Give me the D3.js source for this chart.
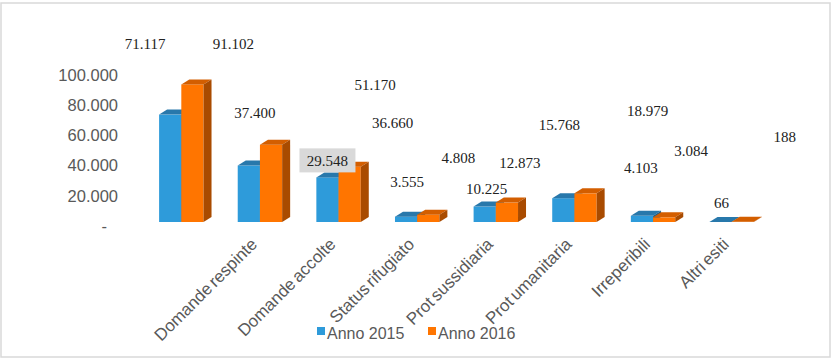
<!DOCTYPE html>
<meta charset="utf-8">
<style>
  body { margin: 0; background: #fff; }
  .axis text { font-family: "Liberation Sans", Arial, sans-serif; font-size: 16.5px; fill: #595959; }
  .cat { font-family: "Liberation Sans", Arial, sans-serif; font-size: 17px; fill: #595959; word-spacing: -2px; }
  .lbl { font-family: "Liberation Serif", "Times New Roman", serif; font-size: 15px; fill: #222; }
  .legend text { font-family: "Liberation Sans", Arial, sans-serif; font-size: 16px; fill: #595959; }
</style>
<body>
<div id="chart"></div>
<script src="https://d3js.org/d3.v7.min.js"></script>
<script>

// first category has no visible label in the original
var categories = ["", "Domande respinte", "Domande accolte", "Status rifugiato",
                  "Prot sussidiaria", "Prot umanitaria", "Irreperibili", "Altri esiti"];
var anno2015 = [71117, 37400, 29548, 3555, 10225, 15768, 4103, 66];
var anno2016 = [91102, 51170, 36660, 4808, 12873, 18979, 3084, 188];
var seriesNames = ["Anno 2015", "Anno 2016"];
var yTicks = [0, 20000, 40000, 60000, 80000, 100000];

// data labels were dragged around by hand in the source; offsets from the bar top
var labelOffsets2015 = [[-25, -71], [6, -53], [0, -17], [1, -35], [2, -18], [-4, -73], [-1, -48], [1, -19]];
var labelOffsets2016 = [[41, -41], [104, -60], [43, -44], [30, -57], [13, -40], [62, -83], [27, -67], [42, -85]];

var W = 834, H = 360;
var depth = {dx: 8, dy: -5};

var colors = [
  {front: "#2E9BDA", top: "#2878AB", side: "#1F5F87"},
  {front: "#FF7500", top: "#D35E00", side: "#A94B00"}
];

var it = d3.formatLocale({decimal: ",", thousands: ".", grouping: [3], currency: ["", ""]});
var fmt = it.format(",");

var svg = d3.select("#chart").append("svg")
    .attr("width", W)
    .attr("height", H);

// outer border
svg.append("rect")
    .attr("x", 1).attr("y", 3)
    .attr("width", 829).attr("height", 354)
    .attr("fill", "none")
    .attr("stroke", "#D9D9D9")
    .attr("stroke-width", 1.5);

var x = d3.scaleBand()
    .domain(categories.map(function(d, i) { return i; }))
    .range([142, 771])
    .paddingInner(0.435)
    .paddingOuter(0.2175);

var y = d3.scaleLinear().domain([0, 100000]).range([222, 71]);

var barW = x.bandwidth() / 2;

// y axis (no line, no ticks)
var gy = svg.append("g")
    .attr("class", "axis")
    .attr("transform", "translate(118,4)")
    .call(d3.axisLeft(y).tickValues(yTicks).tickSize(0).tickPadding(0)
      .tickFormat(function(d) { return d === 0 ? "-" : fmt(d); }));
gy.select(".domain").remove();
gy.selectAll("text").attr("dx", function(d) { return d === 0 ? -11 : 0; });

// 3D bars
var bars = [];
categories.forEach(function(c, i) {
  [anno2015[i], anno2016[i]].forEach(function(v, s) {
    bars.push({i: i, s: s, v: v});
  });
});

var g = svg.append("g");
var bar = g.selectAll("g.bar").data(bars).enter().append("g").attr("class", "bar");

function x0(d) { return x(d.i) + d.s * barW; }

bar.append("rect")
    .attr("x", x0)
    .attr("y", function(d) { return y(d.v); })
    .attr("width", barW)
    .attr("height", function(d) { return y(0) - y(d.v); })
    .attr("fill", function(d) { return colors[d.s].front; });

bar.append("path")
    .attr("d", function(d) {
      var xl = x0(d), xr = xl + barW, yt = y(d.v);
      return "M" + xl + "," + yt + "L" + (xl + depth.dx) + "," + (yt + depth.dy) +
             "L" + (xr + depth.dx) + "," + (yt + depth.dy) + "L" + xr + "," + yt + "Z";
    })
    .attr("fill", function(d) { return colors[d.s].top; });

bar.append("path")
    .attr("d", function(d) {
      var xr = x0(d) + barW, yt = y(d.v), yb = y(0);
      return "M" + xr + "," + yt + "L" + (xr + depth.dx) + "," + (yt + depth.dy) +
             "L" + (xr + depth.dx) + "," + (yb + depth.dy) + "L" + xr + "," + yb + "Z";
    })
    .attr("fill", function(d) { return colors[d.s].side; });

// category labels
svg.selectAll("text.cat").data(categories).enter().append("text")
    .attr("class", "cat")
    .attr("text-anchor", "end")
    .attr("dy", "0.35em")
    .attr("transform", function(d, i) {
      return "translate(" + (x(i) + barW - 6) + ",241) rotate(-45)";
    })
    .text(function(d) { return d; });

// data labels
var labels = bars.map(function(d) {
  var off = d.s === 0 ? labelOffsets2015[d.i] : labelOffsets2016[d.i];
  return {cx: x0(d) + barW / 2 + off[0], cy: y(d.v) + off[1], text: fmt(d.v), boxed: d.s === 0 && d.i === 2};
});

var lg = svg.append("g");
lg.selectAll("rect").data(labels.filter(function(d) { return d.boxed; })).enter().append("rect")
    .attr("x", function(d) { return d.cx - 28; })
    .attr("y", function(d) { return d.cy - 12; })
    .attr("width", 56)
    .attr("height", 24)
    .attr("fill", "#D9D9D9");

lg.selectAll("text").data(labels).enter().append("text")
    .attr("class", "lbl")
    .attr("x", function(d) { return d.cx; })
    .attr("y", function(d) { return d.cy; })
    .attr("dy", "0.35em")
    .attr("text-anchor", "middle")
    .text(function(d) { return d.text; });

// legend
var legend = svg.append("g").attr("class", "legend");
var legX = [317, 428];
seriesNames.forEach(function(n, s) {
  legend.append("rect")
      .attr("x", legX[s]).attr("y", 327)
      .attr("width", 8).attr("height", 8)
      .attr("fill", colors[s].front);
  legend.append("text")
      .attr("x", legX[s] + 10).attr("y", 333)
      .attr("dy", "0.35em")
      .text(n);
});

</script>
</body>
